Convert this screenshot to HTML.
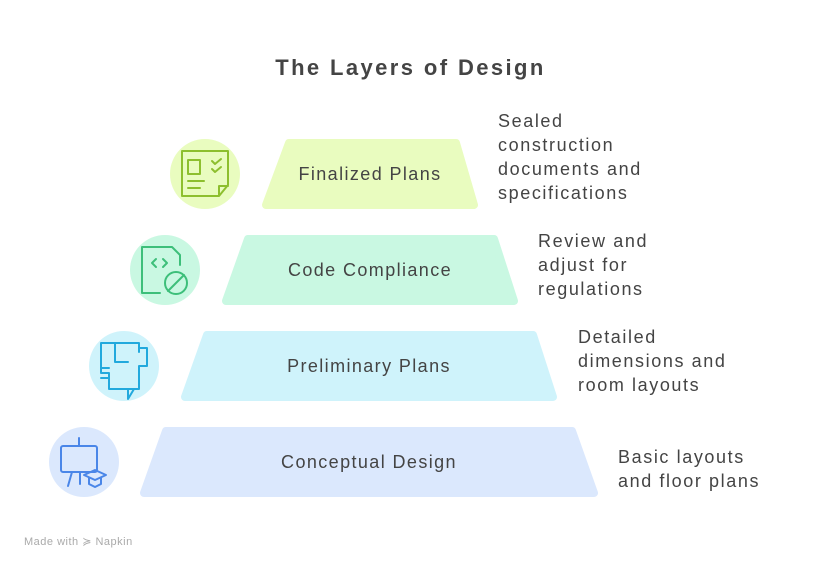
<!DOCTYPE html>
<html><head><style>
body{margin:0;width:821px;height:571px;background:#fff;font-family:"Liberation Sans",sans-serif;position:relative;overflow:hidden}
.t{position:absolute;color:#444;font-size:18px;line-height:24px;letter-spacing:1.6px}
.c{position:absolute;text-align:center;color:#444;font-size:18px;letter-spacing:1.4px}
</style></head><body>
<svg width="821" height="571" style="position:absolute;left:0;top:0">
<g stroke-linejoin="round" stroke-width="8">
<polygon points="289,143 456,143 474,205 266,205" fill="#e9fcbf" stroke="#e9fcbf"/>
<polygon points="248,239 494,239 514,301 226,301" fill="#c9f8e2" stroke="#c9f8e2"/>
<polygon points="207,335 533,335 553,397 185,397" fill="#cff3fb" stroke="#cff3fb"/>
<polygon points="166,431 572,431 594,493 144,493" fill="#dbe8fd" stroke="#dbe8fd"/>
</g>
<circle cx="205" cy="174" r="35" fill="#e9fcbf"/>
<circle cx="165" cy="270" r="35" fill="#c9f8e2"/>
<circle cx="124" cy="366" r="35" fill="#cff3fb"/>
<circle cx="84" cy="462" r="35" fill="#dbe8fd"/>
<g fill="none" stroke-width="2" stroke-linecap="round" stroke-linejoin="round">
<g stroke="#8dbf2e"><path d="M182,151 H228 V185 L219,196 H182 Z M219,196 V186 H228"/><path d="M188,160 h12 v14 h-12 z M188,181 h16 M188,188 h12"/><path d="M212,161 l3,3 l6,-5 M212,169 l3,3 l6,-5"/></g>
<g stroke="#3dbf7a"><path d="M142,247 H172 L180,255 V265 M160,293 H142 V247"/><path d="M156,259 l-4,4 4,4 M163,259 l4,4 -4,4"/><circle cx="176" cy="283" r="11"/><path d="M168,291 L184,275"/></g>
<g stroke="#22a9dd"><path d="M101,343 H139 V352 M101,343 V373 H109 V389 H139 V366 H147 V348 H139"/><path d="M115,343 V362 H128 M101,368 h8 M101,378 h8"/><path d="M128,389 v10 l6,-10"/></g>
<g stroke="#4a86e8"><rect x="61" y="446" width="36" height="26" rx="2"/><path d="M79,438 v8 M74,446 h10 M72,472 l-4,14 M80,472 v12"/><path d="M84,475 l11,-5 11,5 -11,5 z M89,478 v6 l6,3 6,-3 v-6"/></g>
</g>
</svg>
<div style="position:absolute;left:0;width:821px;top:55px;text-align:center;font-size:22px;font-weight:bold;color:#444;letter-spacing:2.4px">The Layers of Design</div>
<div class="c" style="left:262px;width:216px;top:164px">Finalized Plans</div>
<div class="c" style="left:222px;width:296px;top:260px">Code Compliance</div>
<div class="c" style="left:181px;width:376px;top:356px">Preliminary Plans</div>
<div class="c" style="left:140px;width:458px;top:452px">Conceptual Design</div>
<div class="t" style="left:498px;top:109px">Sealed<br>construction<br>documents and<br>specifications</div>
<div class="t" style="left:538px;top:229px">Review and<br>adjust for<br>regulations</div>
<div class="t" style="left:578px;top:325px">Detailed<br>dimensions and<br>room layouts</div>
<div class="t" style="left:618px;top:445px">Basic layouts<br>and floor plans</div>
<div style="position:absolute;left:24px;top:535px;font-size:11px;color:#aaa;letter-spacing:0.5px">Made with ≽ Napkin</div>
</body></html>
